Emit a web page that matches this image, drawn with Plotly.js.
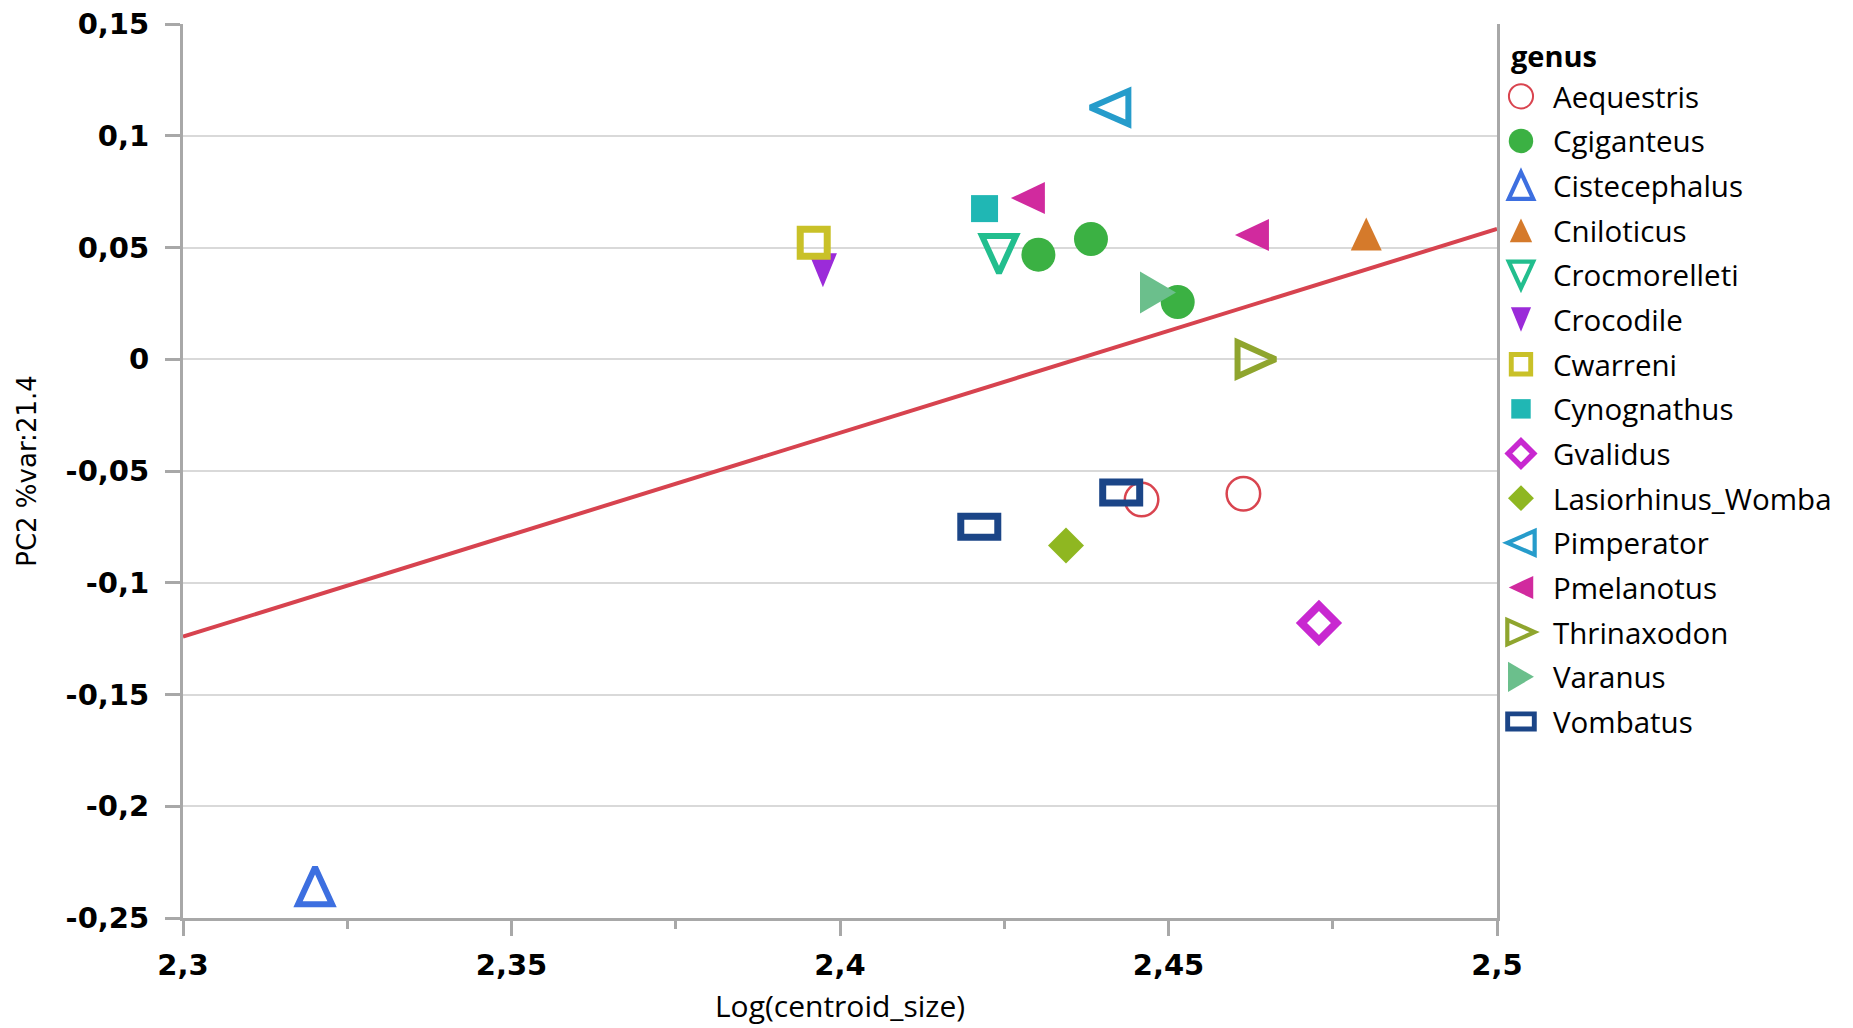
<!DOCTYPE html>
<html>
<head>
<meta charset="utf-8">
<script src="https://cdn.plot.ly/plotly-3.0.1.min.js"></script>
<style>
  html, body { margin: 0; padding: 0; background: #ffffff; }
  #chart { width: 1853px; height: 1028px; }
</style>
</head>
<body>
<div id="chart"></div>
<script>
// ---- Data: one entry per specimen ----
const specimenGenus = [
  'Aequestris', 'Aequestris',
  'Cgiganteus', 'Cgiganteus', 'Cgiganteus',
  'Cistecephalus',
  'Cniloticus',
  'Crocmorelleti',
  'Crocodile',
  'Cwarreni',
  'Cynognathus',
  'Gvalidus',
  'Lasiorhinus_Womba',
  'Pimperator',
  'Pmelanotus', 'Pmelanotus',
  'Thrinaxodon',
  'Varanus',
  'Vombatus', 'Vombatus'
];
const logCentroidSize = [
  2.4459, 2.4614,
  2.4302, 2.4382, 2.4514,
  2.3201,
  2.4801,
  2.4242,
  2.3974,
  2.3960,
  2.4220,
  2.4729,
  2.4344,
  2.4410,
  2.4286, 2.4627,
  2.4634,
  2.4484,
  2.4212, 2.4428
];
const pc2 = [
  -0.0628, -0.0602,
  0.0468, 0.0538, 0.0256,
  -0.2356,
  0.0560,
  0.0469,
  0.0398,
  0.0521,
  0.0674,
  -0.1180,
  -0.0833,
  0.1126,
  0.0721, 0.0556,
  0.0000,
  0.0299,
  -0.0749, -0.0596
];

// Genus order used by the legend
const genera = [
  'Aequestris', 'Cgiganteus', 'Cistecephalus', 'Cniloticus', 'Crocmorelleti',
  'Crocodile', 'Cwarreni', 'Cynognathus', 'Gvalidus', 'Lasiorhinus_Womba',
  'Pimperator', 'Pmelanotus', 'Thrinaxodon', 'Varanus', 'Vombatus'
];

// Axis ticks
const xRange = [2.3, 2.5];
const yRange = [-0.25, 0.15];
const xTickVals = [2.3, 2.35, 2.4, 2.45, 2.5];
const xTickText = ['2,3', '2,35', '2,4', '2,45', '2,5'];
const yTickVals = [-0.25, -0.2, -0.15, -0.1, -0.05, 0, 0.05, 0.1, 0.15];
const yTickText = ['-0,25', '-0,2', '-0,15', '-0,1', '-0,05', '0', '0,05', '0,1', '0,15'];

// ---- Marker styles per genus: shape, width, height, open?, stroke width ----
const genusStyle = {
  Aequestris:        { color: '#d9444f', shape: 'circle',   w: 33.5, h: 33.5, open: true,  sw: 2.5 },
  Cgiganteus:        { color: '#3bb143', shape: 'circle',   w: 34,   h: 34,   open: false, sw: 0 },
  Cistecephalus:     { color: '#3d6fe0', shape: 'triUp',    w: 34,   h: 37,   open: true,  sw: 6 },
  Cniloticus:        { color: '#d57a2b', shape: 'triUp',    w: 31,   h: 33,   open: false, sw: 0 },
  Crocmorelleti:     { color: '#22be8e', shape: 'triDown',  w: 34,   h: 37,   open: true,  sw: 6 },
  Crocodile:         { color: '#9b2bd9', shape: 'triDown',  w: 28,   h: 34,   open: false, sw: 0 },
  Cwarreni:          { color: '#c9c128', shape: 'rect',     w: 27,   h: 27,   open: true,  sw: 7 },
  Cynognathus:       { color: '#20b7b4', shape: 'rect',     w: 27,   h: 27,   open: false, sw: 0 },
  Gvalidus:          { color: '#c828d0', shape: 'diamond',  w: 35,   h: 35,   open: true,  sw: 8 },
  Lasiorhinus_Womba: { color: '#8fb721', shape: 'diamond',  w: 36,   h: 36,   open: false, sw: 0 },
  Pimperator:        { color: '#269ccb', shape: 'triLeft',  w: 38,   h: 33,   open: true,  sw: 6 },
  Pmelanotus:        { color: '#d12a9e', shape: 'triLeft',  w: 34,   h: 32,   open: false, sw: 0 },
  Thrinaxodon:       { color: '#8fa52e', shape: 'triRight', w: 38,   h: 34,   open: true,  sw: 6 },
  Varanus:           { color: '#6bbf8c', shape: 'triRight', w: 36,   h: 42,   open: false, sw: 0 },
  Vombatus:          { color: '#1b4587', shape: 'rect',     w: 37,   h: 21,   open: true,  sw: 7 }
};
const LEGEND_SCALE = 0.72;

// SVG path of a marker centred on (0,0)
function shapePath(shape, w, h) {
  const a = w / 2, b = h / 2;
  switch (shape) {
    case 'circle':
      return 'M' + a + ',0A' + a + ',' + a + ' 0 1,1 0,-' + a + 'A' + a + ',' + a + ' 0 0,1 ' + a + ',0Z';
    case 'rect':
      return 'M' + (-a) + ',' + (-b) + 'H' + a + 'V' + b + 'H' + (-a) + 'Z';
    case 'diamond':
      return 'M' + a + ',0L0,' + b + 'L' + (-a) + ',0L0,' + (-b) + 'Z';
    case 'triUp':
      return 'M0,' + (-b) + 'L' + a + ',' + b + 'H' + (-a) + 'Z';
    case 'triDown':
      return 'M0,' + b + 'L' + a + ',' + (-b) + 'H' + (-a) + 'Z';
    case 'triLeft':
      return 'M' + (-a) + ',0L' + a + ',' + (-b) + 'V' + b + 'Z';
    case 'triRight':
      return 'M' + a + ',0L' + (-a) + ',' + (-b) + 'V' + b + 'Z';
  }
  return '';
}

// ---- Least-squares fit of PC2 on log centroid size ----
function linearFit(xs, ys) {
  const n = xs.length;
  const mx = xs.reduce((s, v) => s + v, 0) / n;
  const my = ys.reduce((s, v) => s + v, 0) / n;
  let sxy = 0, sxx = 0;
  for (let i = 0; i < n; i++) {
    sxy += (xs[i] - mx) * (ys[i] - my);
    sxx += (xs[i] - mx) * (xs[i] - mx);
  }
  const slope = sxy / sxx;
  return { slope: slope, intercept: my - slope * mx };
}
const fit = linearFit(logCentroidSize, pc2);

const traces = [{
  type: 'scatter',
  mode: 'lines',
  x: xRange.slice(),
  y: xRange.map(v => fit.intercept + fit.slope * v),
  line: { color: '#d7434f', width: 4 },
  hoverinfo: 'skip',
  showlegend: false
}];

genera.forEach(g => {
  const st = genusStyle[g];
  const xs = [], ys = [];
  specimenGenus.forEach((sg, i) => {
    if (sg === g) { xs.push(logCentroidSize[i]); ys.push(pc2[i]); }
  });
  traces.push({
    type: 'scatter',
    mode: 'markers',
    name: g,
    legendgroup: g,
    x: xs,
    y: ys,
    cliponaxis: false,
    marker: {
      symbol: st.open ? 'circle-open' : 'circle',
      size: 30,
      color: st.color,
      line: { color: st.color, width: st.open ? st.sw : 0 }
    }
  });
});

const axisGray = '#a8a8a8';
const tickFont = { family: 'DejaVu Sans, sans-serif', size: 29, weight: 700, color: '#000000' };

const layout = {
  width: 1853,
  height: 1028,
  margin: { l: 183, r: 356, t: 24, b: 110, pad: 0 },
  paper_bgcolor: '#ffffff',
  plot_bgcolor: '#ffffff',
  font: { family: 'Open Sans, sans-serif', color: '#000000' },
  showlegend: true,
  hovermode: false,
  xaxis: {
    range: xRange,
    tickmode: 'array',
    tickvals: xTickVals,
    ticktext: xTickText,
    ticks: 'outside',
    ticklen: 15,
    tickwidth: 2.5,
    tickcolor: axisGray,
    ticklabelstandoff: 4,
    tickfont: tickFont,
    showline: true,
    linecolor: axisGray,
    linewidth: 3,
    showgrid: false,
    zeroline: false,
    minor: { dtick: 0.025, tick0: 2.3, ticks: 'outside', ticklen: 8, tickwidth: 2.5, tickcolor: axisGray, showgrid: false },
    title: { text: 'Log(centroid_size)', font: { family: 'Open Sans, sans-serif', size: 30, color: '#000000' }, standoff: 16 }
  },
  yaxis: {
    range: yRange,
    tickmode: 'array',
    tickvals: yTickVals,
    ticktext: yTickText,
    ticks: 'outside',
    ticklen: 15,
    tickwidth: 2.5,
    tickcolor: axisGray,
    ticklabelstandoff: 10,
    tickfont: tickFont,
    showline: true,
    mirror: true,
    linecolor: axisGray,
    linewidth: 3,
    showgrid: true,
    gridcolor: '#d9d9d9',
    gridwidth: 2,
    zeroline: false,
    title: { text: 'PC2 %var:21.4', font: { family: 'DejaVu Sans, sans-serif', size: 26, color: '#000000' }, standoff: 22 }
  },
  legend: {
    x: 0.9939,
    xanchor: 'left',
    y: 0.99,
    yanchor: 'top',
    traceorder: 'grouped',
    tracegroupgap: 3.3,
    itemwidth: 54,
    font: { family: 'Open Sans, sans-serif', size: 29.5, color: '#000000' },
    title: { text: 'genus', font: { family: 'Open Sans, sans-serif', size: 29, weight: 700, color: '#000000' } },
    bgcolor: 'rgba(0,0,0,0)'
  }
};

// Give every genus its own marker outline (plot and legend)
function applyMarkerShapes(gd) {
  const groups = gd.querySelectorAll('.scatterlayer .trace');
  genera.forEach((g, k) => {
    const st = genusStyle[g];
    const grp = groups[k + 1];
    if (!grp) return;
    const d = shapePath(st.shape, st.w, st.h);
    grp.querySelectorAll('path.point').forEach(p => {
      p.setAttribute('d', d);
      p.style.fill = st.open ? 'none' : st.color;
      p.style.stroke = st.color;
      p.style.strokeWidth = (st.open ? st.sw : 0) + 'px';
      p.style.strokeLinejoin = 'miter';
    });
  });
  const items = gd.querySelectorAll('.legend .traces');
  items.forEach((item, k) => {
    const g = genera[k];
    if (!g) return;
    const st = genusStyle[g];
    const d = shapePath(st.shape, st.w * LEGEND_SCALE, st.h * LEGEND_SCALE);
    item.querySelectorAll('.legendpoints path.scatterpts').forEach(p => {
      p.setAttribute('d', d);
      p.style.fill = st.open ? 'none' : st.color;
      p.style.stroke = st.color;
      p.style.strokeWidth = (st.open ? Math.max(2, st.sw * 0.7) : 0) + 'px';
      p.style.strokeLinejoin = 'miter';
    });
  });
  // Nudge the legend heading to sit over the symbols column
  const heading = gd.querySelector('.legend .legendtitletext');
  if (heading) heading.setAttribute('transform', 'translate(20,-4)');
}

Plotly.newPlot('chart', traces, layout, { displayModeBar: false, responsive: false })
  .then(applyMarkerShapes);
</script>
</body>
</html>
